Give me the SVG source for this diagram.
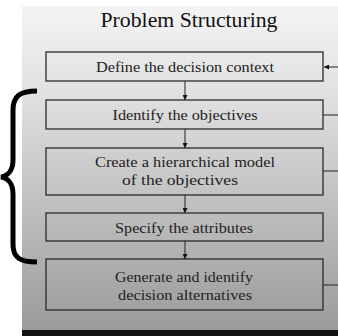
<svg xmlns="http://www.w3.org/2000/svg" width="338" height="336" viewBox="0 0 338 336">
<defs>
<linearGradient id="bg" x1="0" y1="0" x2="0" y2="1">
<stop offset="0" stop-color="#f4f4f4"/>
<stop offset="0.3" stop-color="#dedede"/>
<stop offset="1" stop-color="#9a9a9a"/>
</linearGradient>
<marker id="ah" viewBox="0 0 10 10" refX="10" refY="5" markerWidth="5" markerHeight="5" orient="auto">
<path d="M0,0 L10,5 L0,10 z" fill="#111"/>
</marker>
<style>
.box{fill:none;stroke:#2a2a2a;stroke-width:1.3}
.t{font-family:"Liberation Serif","Times New Roman",serif;font-size:14px;fill:#222;text-anchor:middle}
.c{stroke:#222;stroke-width:1;fill:none}
</style>
</defs>
<rect x="0" y="0" width="338" height="336" fill="#fff"/>
<rect x="22" y="6" width="316" height="325" fill="url(#bg)"/>
<rect x="22" y="330" width="316" height="6" fill="#111"/>
<text x="189" y="27" font-family="Liberation Serif, Times New Roman, serif" font-size="21" fill="#111" text-anchor="middle" textLength="177" lengthAdjust="spacingAndGlyphs">Problem Structuring</text>
<g id="n1"><rect class="box" x="46" y="52" width="277" height="29"/><text class="t" x="185" y="72" textLength="178" lengthAdjust="spacingAndGlyphs">Define the decision context</text></g>
<g id="n2"><rect class="box" x="46" y="100" width="277" height="29"/><text class="t" x="185" y="120" textLength="145" lengthAdjust="spacingAndGlyphs">Identify the objectives</text></g>
<g id="n3"><rect class="box" x="46" y="148" width="277" height="47"/><text class="t" x="185" y="167" textLength="180" lengthAdjust="spacingAndGlyphs">Create a hierarchical model</text><text class="t" x="180" y="185" textLength="116" lengthAdjust="spacingAndGlyphs">of the objectives</text></g>
<g id="n4"><rect class="box" x="46" y="213" width="277" height="28"/><text class="t" x="184" y="233" textLength="138" lengthAdjust="spacingAndGlyphs">Specify the attributes</text></g>
<g id="n5"><rect class="box" x="46" y="259" width="277" height="51"/><text class="t" x="184" y="282" textLength="138" lengthAdjust="spacingAndGlyphs">Generate and identify</text><text class="t" x="185" y="300" textLength="134" lengthAdjust="spacingAndGlyphs">decision alternatives</text></g>
<g id="connectors">
<line class="c" x1="185" y1="81" x2="185" y2="100" marker-end="url(#ah)"/>
<line class="c" x1="185" y1="129" x2="185" y2="148" marker-end="url(#ah)"/>
<line class="c" x1="185" y1="195" x2="185" y2="213" marker-end="url(#ah)"/>
<line class="c" x1="185" y1="241" x2="185" y2="259" marker-end="url(#ah)"/>
<line class="c" x1="338" y1="67" x2="324" y2="67" marker-end="url(#ah)"/>
<line class="c" x1="323" y1="115" x2="338" y2="115"/>
<line class="c" x1="323" y1="171" x2="338" y2="171"/>
<line class="c" x1="323" y1="285" x2="338" y2="285" stroke="#777"/>
</g>
<path d="M37,91 C20,91 13,96 13,110 L13,160 C13,170 8,176 1,177 C8,178 13,184 13,194 L13,244 C13,258 20,262 37,262" fill="none" stroke="#000" stroke-width="5"/>
</svg>
